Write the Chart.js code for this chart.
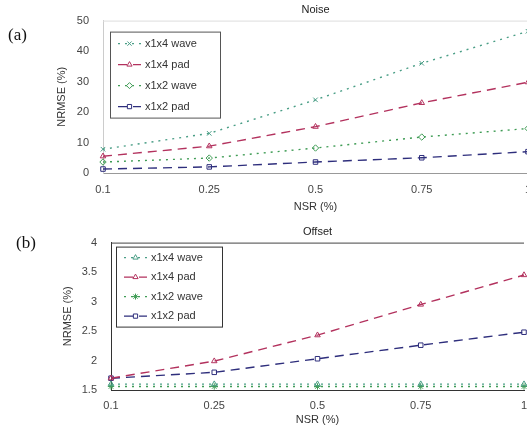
<!DOCTYPE html>
<html>
<head>
<meta charset="utf-8">
<script src="https://cdn.jsdelivr.net/npm/chart.js@4/dist/chart.umd.min.js"></script>
<style>
  body { margin: 0; background: #fff; }
  #wrap { position: relative; width: 527px; height: 431px; overflow: hidden; }
  canvas { position: absolute; left: 0; }
  .tag { position: absolute; font-family: "Liberation Serif", serif; font-size: 17px; color: #111; }
</style>
</head>
<body>
<div id="wrap">
  <canvas id="noiseChart" style="top:0px" width="533" height="215"></canvas>
  <canvas id="offsetChart" style="top:222px" width="529" height="209"></canvas>
  <div class="tag" style="left:8px;top:25px">(a)</div>
  <div class="tag" style="left:16px;top:233px">(b)</div>
</div>
<script>
const nsrLabels = ["0.1", "0.25", "0.5", "0.75", "1"];
const seriesNames = ["x1x4 wave", "x1x4 pad", "x1x2 wave", "x1x2 pad"];

// (a) noise
const noiseX1x4Wave = [7.8, 13, 24, 36, 46.5];
const noiseX1x4Pad = [5.5, 8.8, 15.2, 23, 29.8];
const noiseX1x2Wave = [3.6, 4.9, 8.2, 11.8, 14.6];
const noiseX1x2Pad = [1.3, 2.0, 3.6, 5.0, 7.0];
const noiseTicks = [0, 10, 20, 30, 40, 50];

// (b) offset
const offsetX1x4Wave = [1.6, 1.6, 1.6, 1.6, 1.6];
const offsetX1x4Pad = [1.7, 1.99, 2.43, 2.95, 3.45];
const offsetX1x2Wave = [1.56, 1.56, 1.56, 1.56, 1.56];
const offsetX1x2Pad = [1.7, 1.8, 2.03, 2.26, 2.48];
const offsetTicks = [1.5, 2, 2.5, 3, 3.5, 4];

const colors = ["#4a9e86", "#b3325e", "#3f9c55", "#2e2e7c"];
const dashes = [[2, 5], [9, 6], [2, 5], [9, 6]];

function makeSets(values, markers) {
  return values.map((v, i) => ({
    label: seriesNames[i],
    data: v,
    borderColor: colors[i],
    borderWidth: 1.4,
    borderDash: dashes[i],
    pointStyle: markers[i],
    pointRadius: 3.2,
    pointBorderWidth: 1,
    pointBorderColor: colors[i],
    pointBackgroundColor: "rgba(0,0,0,0)",
    tension: 0
  }));
}

// legend box drawn inside the axes, MATLAB style
const boxLegend = {
  id: "boxLegend",
  afterDraw(chart, args, opts) {
    const ctx = chart.ctx;
    const a = chart.chartArea;
    const x = a.left + opts.dx, y = a.top + opts.dy;
    ctx.save();
    ctx.fillStyle = "#fff";
    ctx.fillRect(x, y, opts.w, opts.h);
    ctx.strokeStyle = opts.border;
    ctx.lineWidth = 1;
    ctx.setLineDash([]);
    ctx.strokeRect(x + 0.5, y + 0.5, opts.w, opts.h);
    ctx.font = "11px 'Liberation Sans', Arial, sans-serif";
    ctx.textBaseline = "middle";
    chart.data.datasets.forEach((ds, i) => {
      const ry = y + opts.first + i * opts.step;
      ctx.strokeStyle = ds.borderColor;
      ctx.lineWidth = 1.4;
      ctx.setLineDash(ds.borderDash);
      ctx.beginPath();
      ctx.moveTo(x + 8, ry);
      ctx.lineTo(x + 31, ry);
      ctx.stroke();
      ctx.setLineDash([]);
      ctx.fillStyle = "#fff";
      ctx.lineWidth = 1;
      Chart.helpers.drawPoint(ctx, {pointStyle: ds.pointStyle, radius: 3, borderWidth: 1}, x + 19.5, ry);
      ctx.fillStyle = "#333";
      ctx.fillText(ds.label, x + 35, ry);
    });
    ctx.restore();
  }
};

const topLine = {
  id: "topLine",
  beforeDatasetsDraw(chart, args, opts) {
    const ctx = chart.ctx;
    const a = chart.chartArea;
    ctx.save();
    ctx.strokeStyle = opts.color;
    ctx.lineWidth = 1;
    ctx.beginPath();
    ctx.moveTo(a.left, a.top + 0.5);
    ctx.lineTo(a.right, a.top + 0.5);
    ctx.stroke();
    ctx.restore();
  }
};

function makeChart(id, cfg) {
  const font = {family: "'Liberation Sans', Arial, sans-serif", size: 11};
  return new Chart(id, {
    type: "line",
    data: {labels: nsrLabels, datasets: makeSets(cfg.values, cfg.markers)},
    plugins: [boxLegend, topLine],
    options: {
      responsive: false,
      animation: false,
      layout: {padding: 0},
      plugins: {
        legend: {display: false},
        tooltip: {enabled: false},
        title: {display: true, text: cfg.title, fullSize: false, color: "#222",
                font: {family: font.family, size: 11, weight: "normal"},
                padding: {top: 3, bottom: 4}},
        boxLegend: cfg.legend,
        topLine: {color: cfg.axisTop}
      },
      scales: {
        x: {
          type: "category",
          offset: false,
          grid: {display: false, drawTicks: false},
          border: {color: cfg.axisColor},
          ticks: {color: "#444", font: font, padding: cfg.xPad, maxRotation: 0, autoSkip: false},
          title: {display: true, text: "NSR (%)", color: "#333", font: font, padding: {top: 0, bottom: cfg.xTitlePad}},
          afterFit(s) { s.height = cfg.xHeight; s.paddingRight = 0; s.paddingLeft = 0; }
        },
        y: {
          min: cfg.ticks[0],
          max: cfg.ticks[cfg.ticks.length - 1],
          afterBuildTicks(s) { s.ticks = cfg.ticks.map(v => ({value: v})); },
          grid: {display: false, drawTicks: false},
          border: {color: cfg.axisLeft},
          ticks: {color: "#444", font: font, padding: 14, callback: v => String(v)},
          title: {display: true, text: "NRMSE (%)", color: "#333", font: font, padding: {top: cfg.yTitlePad, bottom: 0}},
          afterFit(s) { s.width = cfg.yWidth; }
        }
      }
    }
  });
}

makeChart("noiseChart", {
  title: "Noise",
  values: [noiseX1x4Wave, noiseX1x4Pad, noiseX1x2Wave, noiseX1x2Pad],
  markers: ["crossRot", "triangle", "rectRot", "rect"],
  ticks: noiseTicks,
  yWidth: 103, xHeight: 42, xPad: 10, xTitlePad: 1, yTitlePad: 55,
  axisColor: "#999", axisLeft: "#ccc", axisTop: "#ddd",
  legend: {dx: 7, dy: 11, w: 110, h: 86, first: 12, step: 21, border: "#555"}
});

makeChart("offsetChart", {
  title: "Offset",
  values: [offsetX1x4Wave, offsetX1x4Pad, offsetX1x2Wave, offsetX1x2Pad],
  markers: ["triangle", "triangle", "star", "rect"],
  ticks: offsetTicks,
  yWidth: 111, xHeight: 41, xPad: 9, xTitlePad: 4, yTitlePad: 61,
  axisColor: "#333", axisLeft: "#333", axisTop: "#444",
  legend: {dx: 5, dy: 4, w: 106, h: 80, first: 11, step: 19.5, border: "#333"}
});
</script>
</body>
</html>
